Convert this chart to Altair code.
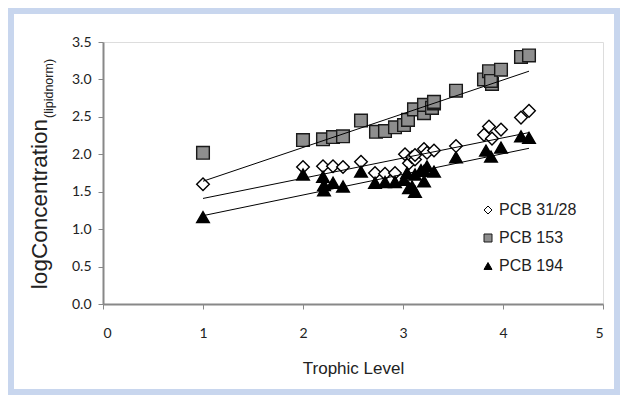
import altair as alt
import pandas as pd

# ---- data ----
series_names = ["PCB 31/28", "PCB 153", "PCB 194"]

tl_3128 = [1.00, 2.00, 2.20, 2.30, 2.40, 2.58, 2.72, 2.82, 2.92, 3.02, 3.06, 3.09,
           3.12, 3.12, 3.21, 3.24, 3.31, 3.53, 3.81, 3.86, 3.89, 3.98, 4.18, 4.26]
c_3128 = [1.60, 1.83, 1.84, 1.84, 1.83, 1.90, 1.75, 1.74, 1.75, 2.00, 1.88, 1.96,
          1.93, 1.99, 2.07, 2.02, 2.05, 2.11, 2.26, 2.37, 2.21, 2.33, 2.49, 2.58]

tl_153 = [1.00, 2.00, 2.20, 2.30, 2.40, 2.58, 2.73, 2.82, 2.92, 3.01, 3.05, 3.11,
          3.21, 3.21, 3.29, 3.31, 3.31, 3.53, 3.81, 3.86, 3.89, 3.88, 3.98, 4.18, 4.26]
c_153 = [2.02, 2.19, 2.20, 2.23, 2.24, 2.45, 2.30, 2.31, 2.36, 2.39, 2.46, 2.60,
         2.55, 2.66, 2.62, 2.68, 2.70, 2.85, 3.00, 3.11, 2.94, 2.98, 3.13, 3.30, 3.32]

tl_194 = [1.00, 2.00, 2.20, 2.21, 2.21, 2.30, 2.40, 2.58, 2.72, 2.82, 2.92, 3.01,
          3.04, 3.06, 3.09, 3.12, 3.12, 3.18, 3.21, 3.21, 3.24, 3.31, 3.53, 3.83,
          3.88, 3.98, 4.18, 4.26]
c_194 = [1.16, 1.73, 1.70, 1.59, 1.52, 1.62, 1.57, 1.77, 1.62, 1.63, 1.63, 1.66,
         1.75, 1.55, 1.57, 1.50, 1.73, 1.79, 1.64, 1.78, 1.84, 1.77, 1.96, 2.05,
         1.97, 2.09, 2.24, 2.22]

# trend lines (start / end)
trend_x = [1.00, 4.26]
trend_3128 = [1.41, 2.29]
trend_153 = [1.64, 3.11]
trend_194 = [1.18, 2.08]

x_ticks = [0, 1, 2, 3, 4, 5]
y_ticks = [0.0, 0.5, 1.0, 1.5, 2.0, 2.5, 3.0, 3.5]

shapes = ["diamond", "square", "triangle-up"]
fills = ["white", "#8e8e8e", "black"]
strokes = ["black", "#1a1a1a", "black"]

rows = []
for name, xs, ys in [("PCB 31/28", tl_3128, c_3128), ("PCB 153", tl_153, c_153),
                     ("PCB 194", tl_194, c_194)]:
    rows += [{"series": name, "tl": x, "conc": y} for x, y in zip(xs, ys)]
pts = pd.DataFrame(rows)

trows = []
for name, ys in [("PCB 31/28", trend_3128), ("PCB 153", trend_153), ("PCB 194", trend_194)]:
    trows += [{"series": name, "tl": x, "conc": y} for x, y in zip(trend_x, ys)]
trend = pd.DataFrame(trows)

dummy = pd.DataFrame({"a": [0]})

axis_color = "#888888"
label_font = "Lato"
title_font = "Liberation Sans"

xscale = alt.Scale(domain=[0, 5], nice=False, zero=False)
yscale = alt.Scale(domain=[0, 3.5], nice=False, zero=False)

x_enc = alt.X("tl:Q", scale=xscale,
              axis=alt.Axis(values=x_ticks, format="d", title="Trophic Level",
                            grid=False, domainColor=axis_color, domainWidth=2,
                            tickColor=axis_color, tickSize=5, tickWidth=1,
                            labelFont=label_font, labelFontSize=14, labelColor="#222",
                            labelPadding=17, labelOverlap=False,
                            titleFont=title_font, titleFontSize=17,
                            titleFontWeight="normal", titleColor="#222",
                            titlePadding=20, zindex=1))
y_enc = alt.Y("conc:Q", scale=yscale,
              axis=alt.Axis(values=y_ticks, format=".1f", title=None,
                            grid=False, domainColor=axis_color, domainWidth=2,
                            tickColor=axis_color, tickSize=5, tickWidth=1,
                            labelFont=label_font, labelFontSize=14, labelColor="#222",
                            labelPadding=7, labelOverlap=False, zindex=1))

legend = alt.Legend(title=None, orient="none", legendX=377, legendY=160,
                    symbolSize=64, symbolStrokeWidth=1, labelFont=title_font,
                    labelFontSize=16, labelColor="#222", rowPadding=12, labelOffset=3)

points = alt.Chart(pts).mark_point(filled=True, size=160, strokeWidth=1.4, opacity=1).encode(
    x=x_enc,
    y=y_enc,
    shape=alt.Shape("series:N", scale=alt.Scale(domain=series_names, range=shapes),
                    sort=series_names, legend=legend),
    fill=alt.Fill("series:N", scale=alt.Scale(domain=series_names, range=fills),
                  sort=series_names, legend=legend),
    stroke=alt.Stroke("series:N", scale=alt.Scale(domain=series_names, range=strokes),
                      sort=series_names, legend=legend),
)

lines = alt.Chart(trend).mark_line(color="black", strokeWidth=1).encode(
    x=x_enc,
    y=y_enc,
    detail="series:N",
)

ytitle = alt.Chart(dummy).mark_text(text="logConcentration", angle=270, align="right",
                                    baseline="middle", font=title_font, fontSize=22.5,
                                    color="#222").encode(
    x=alt.value(-63), y=alt.value(77))
ysub = alt.Chart(dummy).mark_text(text="(lipidnorm)", angle=270, align="left",
                                  baseline="middle", font=title_font, fontSize=12.5,
                                  color="#222").encode(
    x=alt.value(-54), y=alt.value(76))

frame = alt.Chart(dummy).mark_rect(filled=False, stroke="#c8d6ee", strokeWidth=6).encode(
    x=alt.value(-92), x2=alt.value(514), y=alt.value(-31), y2=alt.value(350))

chart = alt.layer(frame, points, lines, ytitle, ysub).properties(
    width=500, height=262,
    padding={"left": 95, "top": 34, "right": 17, "bottom": 91},
    autosize=alt.AutoSizeParams(type="none"),
).configure_view(stroke=axis_color, strokeWidth=2).configure(background="white")

chart.save("out.html", embed_options={"renderer": "svg", "actions": False})
